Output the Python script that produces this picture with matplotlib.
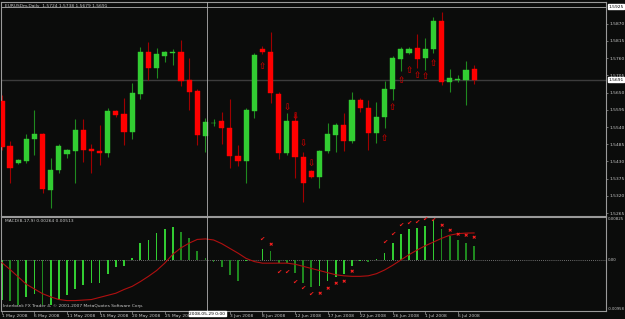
import numpy as np
import matplotlib
matplotlib.use("Agg")
import matplotlib.pyplot as plt

# EURUSDm daily bars, 1 May 2008 .. 8 Jul 2008 (Sunday bars included)
opens = [1.5623, 1.5479, 1.5425, 1.5431, 1.5502, 1.5518, 1.5339, 1.5403, 1.5454, 1.5463,
         1.5530, 1.5470, 1.5463, 1.5457, 1.5591, 1.5582, 1.5524, 1.5646, 1.5780, 1.5729,
         1.5767, 1.5777, 1.5780, 1.5690, 1.5655, 1.5511, 1.5553, 1.5559, 1.5537, 1.5447,
         1.5431, 1.5591, 1.5789, 1.5780, 1.5646, 1.5457, 1.5559, 1.5444, 1.5399, 1.5380,
         1.5463, 1.5514, 1.5546, 1.5495, 1.5626, 1.5601, 1.5521, 1.5572, 1.5662, 1.5757,
         1.5777, 1.5792, 1.5761, 1.5789, 1.5879, 1.5684, 1.5690, 1.5690, 1.5724]
highs = [1.5642, 1.5495, 1.5438, 1.5518, 1.5594, 1.5521, 1.5441, 1.5486, 1.5470, 1.5566,
         1.5566, 1.5486, 1.5546, 1.5601, 1.5594, 1.5633, 1.5681, 1.5796, 1.5812, 1.5792,
         1.5783, 1.5789, 1.5818, 1.5761, 1.5662, 1.5569, 1.5566, 1.5588, 1.5630, 1.5482,
         1.5601, 1.5777, 1.5799, 1.5844, 1.5652, 1.5585, 1.5585, 1.5460, 1.5403, 1.5467,
         1.5553, 1.5553, 1.5585, 1.5652, 1.5633, 1.5626, 1.5620, 1.5687, 1.5767, 1.5796,
         1.5796, 1.5837, 1.5824, 1.5891, 1.5907, 1.5725, 1.5706, 1.5751, 1.5738]
lows = [1.5467, 1.5361, 1.5422, 1.5425, 1.5451, 1.5329, 1.5281, 1.5393, 1.5441, 1.5361,
        1.5428, 1.5393, 1.5419, 1.5444, 1.5572, 1.5482, 1.5502, 1.5630, 1.5690, 1.5697,
        1.5748, 1.5738, 1.5671, 1.5594, 1.5482, 1.5460, 1.5543, 1.5486, 1.5409, 1.5415,
        1.5361, 1.5569, 1.5773, 1.5617, 1.5438, 1.5451, 1.5377, 1.5300, 1.5377, 1.5345,
        1.5457, 1.5460, 1.5463, 1.5489, 1.5588, 1.5467, 1.5489, 1.5537, 1.5626, 1.5719,
        1.5773, 1.5729, 1.5722, 1.5777, 1.5674, 1.5652, 1.5684, 1.5610, 1.5679]
closes = [1.5476, 1.5409, 1.5435, 1.5502, 1.5518, 1.5342, 1.5403, 1.5479, 1.5467, 1.5530,
          1.5467, 1.5463, 1.5457, 1.5591, 1.5578, 1.5524, 1.5649, 1.5780, 1.5729, 1.5773,
          1.5780, 1.5780, 1.5687, 1.5652, 1.5514, 1.5556, 1.5554, 1.5537, 1.5447, 1.5431,
          1.5594, 1.5770, 1.5780, 1.5649, 1.5457, 1.5559, 1.5444, 1.5361, 1.5380, 1.5463,
          1.5518, 1.5546, 1.5495, 1.5626, 1.5601, 1.5521, 1.5572, 1.5662, 1.5761, 1.5789,
          1.5789, 1.5757, 1.5789, 1.5879, 1.5684, 1.5697, 1.5693, 1.5722, 1.5691]

# MACD(8,17,9): main line (histogram) and signal
macd_main = [-0.0075, -0.0077, -0.0085, -0.0071, -0.0065, -0.0085, -0.0085, -0.0076, -0.0066, -0.0055,
             -0.0047, -0.0043, -0.0043, -0.0027, -0.0014, -0.0011, 0.0004, 0.0032, 0.0038, 0.0052,
             0.0059, 0.0062, 0.0053, 0.0041, 0.0018, 0.0004, -0.0003, -0.0013, -0.0028, -0.0039,
             -0.0001, 0.0000, 0.0020, 0.0018, -0.0005, -0.0006, -0.0024, -0.0043, -0.0052, -0.0049,
             -0.0039, -0.0032, -0.0027, -0.0011, -0.0001, -0.0004, 0.0001, 0.0014, 0.0033, 0.0049,
             0.0058, 0.0060, 0.0065, 0.0076, 0.0058, 0.0046, 0.0038, 0.0033, 0.00264]
macd_signal = [-0.0005, -0.0018, -0.0032, -0.0046, -0.0055, -0.0064, -0.0070, -0.0075, -0.0077, -0.0077,
               -0.0076, -0.0075, -0.0071, -0.0067, -0.0063, -0.0056, -0.0050, -0.0041, -0.0031, -0.0020,
               -0.0006, 0.0011, 0.0023, 0.0032, 0.0039, 0.0040, 0.0038, 0.0031, 0.0022, 0.0013,
               0.0003, -0.0003, -0.0006, -0.0006, -0.0006, -0.0006, -0.0008, -0.0012, -0.0016, -0.0020,
               -0.0024, -0.0028, -0.0030, -0.0031, -0.0031, -0.0030, -0.0026, -0.0019, -0.0010, 0.0000,
               0.0010, 0.0019, 0.0027, 0.0034, 0.0041, 0.0047, 0.0050, 0.0051, 0.00513]

# signal arrows on the price chart
up_idx = [32, 47, 48, 49, 50, 51, 52, 53]
up_px = [1.5732, 1.5502, 1.5601, 1.5690, 1.5719, 1.5703, 1.5700, 1.5742]
dn_idx = [35, 36, 37, 38]
dn_px = [1.5604, 1.5575, 1.5489, 1.5425]

# ticks / crosses on the MACD window
chk_idx = [32, 34, 35, 36, 37, 38, 47, 48, 49, 50, 51, 52, 53]
chk_val = [0.0040, -0.0023, -0.0023, -0.0042, -0.0053, -0.0065, 0.0034, 0.0049, 0.0065, 0.0070, 0.0072, 0.0078, 0.0076]
crs_idx = [33, 39, 40, 41, 42, 43, 54, 55, 56, 57, 58]
crs_val = [0.0030, -0.0063, -0.0055, -0.0044, -0.0042, -0.0023, 0.0066, 0.0055, 0.0049, 0.0046, 0.0042]

date_idx = [0, 4, 8, 12, 16, 20, 28, 32, 36, 40, 44, 48, 52, 56]
date_lbl = ["1 May 2008", "6 May 2008", "11 May 2008", "15 May 2008", "20 May 2008", "25 May 2008",
            "3 Jun 2008", "8 Jun 2008", "12 Jun 2008", "17 Jun 2008", "22 Jun 2008", "26 Jun 2008",
            "1 Jul 2008", "6 Jul 2008"]
price_ticks = [1.5870, 1.5815, 1.5760, 1.5705, 1.5650, 1.5595, 1.5540, 1.5485, 1.5430, 1.5375, 1.5320, 1.5265]

BG = "#0b0c0b"
FRAME = "#9a9a9a"
TXT = "#c8c8c8"
FS = 3.2

W, H = 625, 319
fig = plt.figure(figsize=(6.25, 3.19), dpi=100, facecolor=BG)
ax_p = fig.add_axes([1 / W, (H - 215.5) / H, 605 / W, 214 / H], facecolor=BG)
ax_m = fig.add_axes([1 / W, (H - 310.5) / H, 605 / W, 94 / H], facecolor=BG)

xlim = (-0.11, 74.2)
n = len(opens)
x = np.arange(n)

# candles
for i in range(n):
    o, h, l, c = opens[i], highs[i], lows[i], closes[i]
    bull = c >= o
    wick = "#1f8a1f" if bull else "#a00000"
    body = "#32cd32" if bull else "#ff0000"
    ax_p.vlines(i, l, h, color=wick, linewidth=0.8, zorder=2)
    lo, hi = min(o, c), max(o, c)
    hgt = max(hi - lo, 0.00005)
    ax_p.bar(i, hgt, bottom=lo, width=0.64, color=body, edgecolor=body, linewidth=0.3, zorder=3)

for i, p in zip(up_idx, up_px):
    ax_p.text(i, p, "\u21e7", color="#c00000", fontsize=6.2, fontweight="bold",
              ha="center", va="center", zorder=4)
for i, p in zip(dn_idx, dn_px):
    ax_p.text(i, p, "\u21e9", color="#c00000", fontsize=6.2, fontweight="bold",
              ha="center", va="center", zorder=4)

# bid line and crosshair
ax_p.axhline(closes[-1], color="#3c3c3c", linewidth=1.0, zorder=1)
ax_p.axhline(1.5925, color="#b0b0b0", linewidth=0.6, zorder=1)
ax_p.axvline(25.2, color="#b0b0b0", linewidth=0.6, zorder=5)
ax_m.axvline(25.2, color="#b0b0b0", linewidth=0.6, zorder=5)

ax_p.set_xlim(*xlim)
ax_p.set_ylim(1.52573, 1.5941)
ax_p.set_xticks([])
ax_p.yaxis.tick_right()
ax_p.set_yticks(price_ticks)
ax_p.set_yticklabels(["%.4f" % v for v in price_ticks])
ax_p.tick_params(axis="y", colors=FRAME, labelcolor=TXT, labelsize=FS, length=1.5, width=0.5, pad=1)
for s in ax_p.spines.values():
    s.set_color(FRAME)
    s.set_linewidth(0.8)

ax_p.text(0.006, 0.99, "EURUSDm,Daily  %.4f %.4f %.4f %.4f" % (opens[-1], highs[-1], lows[-1], closes[-1]),
          transform=ax_p.transAxes, color=TXT, fontsize=FS, ha="left", va="top")
box = dict(boxstyle="square,pad=0.15", facecolor="white", edgecolor="white")
ax_p.text(1.004, 1.5925, "1.5925", transform=ax_p.get_yaxis_transform(), color="black",
          fontsize=FS, ha="left", va="center", bbox=box, zorder=6, clip_on=False)
ax_p.text(1.004, closes[-1], "%.4f" % closes[-1], transform=ax_p.get_yaxis_transform(), color="black",
          fontsize=FS, ha="left", va="center", bbox=box, zorder=6, clip_on=False)

# MACD window
cols = []
for i in range(n):
    prev = macd_main[i - 1] if i > 0 else macd_main[i]
    cols.append("#32cd32" if macd_main[i] >= prev else "#1f8a1f")
ax_m.bar(x, macd_main, width=0.22, color=cols, linewidth=0, zorder=2)
ax_m.plot(x, macd_signal, color="#b01010", linewidth=0.8, zorder=3)
ax_m.axhline(0, color="#909090", linewidth=0.6, linestyle=(0, (1, 1.5)), zorder=1)
for i, v in zip(chk_idx, chk_val):
    ax_m.text(i, v, "\u2714", color="#ff2020", fontsize=4.6, ha="center", va="center", zorder=4)
for i, v in zip(crs_idx, crs_val):
    ax_m.text(i, v, "\u2716", color="#ff2020", fontsize=3.8, ha="center", va="center", zorder=4)

ax_m.set_xlim(*xlim)
ax_m.set_ylim(-0.00958, 0.00825)
ax_m.set_yticks([])
ax_m.set_xticks(date_idx)
ax_m.set_xticklabels(date_lbl, ha="left")
ax_m.tick_params(axis="x", colors=FRAME, labelcolor=TXT, labelsize=FS, length=2, width=0.5, pad=0.6)
for s in ax_m.spines.values():
    s.set_color(FRAME)
    s.set_linewidth(0.8)

ax_m.text(0.006, 0.97, "MACD(8,17,9) %.5f %.5f" % (macd_main[-1], macd_signal[-1]),
          transform=ax_m.transAxes, color=TXT, fontsize=FS, ha="left", va="top")
ax_m.text(0.004, 0.03, "Interbank FX Trader 4, \u00a9 2001-2007 MetaQuotes Software Corp.",
          transform=ax_m.transAxes, color=TXT, fontsize=FS, ha="left", va="bottom")
ytr = ax_m.get_yaxis_transform()
ax_m.text(1.003, 0.00825, "0.00825", transform=ytr, color=TXT, fontsize=2.9, ha="left", va="top", clip_on=False)
ax_m.text(1.003, 0.0, "0.00", transform=ytr, color=TXT, fontsize=2.9, ha="left", va="center", clip_on=False)
ax_m.text(1.003, -0.00958, "-0.00958", transform=ytr, color=TXT, fontsize=2.7, ha="left", va="bottom", clip_on=False)

# date box of the crosshair
ax_m.text(23.0, -0.00985, "2008.05.29 0:00", color="black", fontsize=FS, ha="left", va="top",
          bbox=dict(boxstyle="square,pad=0.1", facecolor="white", edgecolor="white"), zorder=7, clip_on=False)

fig.savefig("out.png", dpi=100, facecolor=BG)
